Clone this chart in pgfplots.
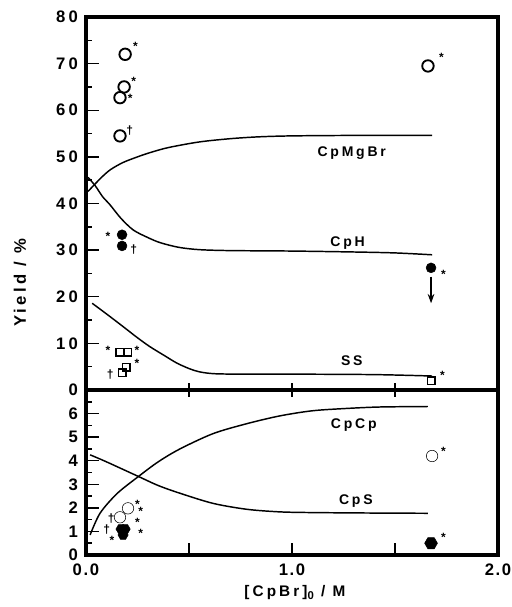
\documentclass[border=0pt]{standalone}
\usepackage{fontspec}
\setmainfont{Liberation Sans}[LetterSpace=20]
\usepackage{pgfplots}
\pgfplotsset{compat=1.18}
\usetikzlibrary{arrows.meta}

\pgfdeclareplotmark{hexagon*}{%
 \pgfpathmoveto{\pgfqpoint{\pgfplotmarksize}{0pt}}%
 \pgfpathlineto{\pgfqpoint{0.5\pgfplotmarksize}{0.866\pgfplotmarksize}}%
 \pgfpathlineto{\pgfqpoint{-0.5\pgfplotmarksize}{0.866\pgfplotmarksize}}%
 \pgfpathlineto{\pgfqpoint{-\pgfplotmarksize}{0pt}}%
 \pgfpathlineto{\pgfqpoint{-0.5\pgfplotmarksize}{-0.866\pgfplotmarksize}}%
 \pgfpathlineto{\pgfqpoint{0.5\pgfplotmarksize}{-0.866\pgfplotmarksize}}%
 \pgfpathclose\pgfusepathqfillstroke}

\pgfplotsset{
 base/.style={
  scale only axis, width=309pt, xmin=0, xmax=2,
  axis line style={line width=2.6pt},
  ytick pos=left, xtick pos=bottom,
  tick label style={font=\fontsize{12.5}{15}\selectfont\bfseries},
  yticklabel style={xshift=-2.5pt},
  xticklabel style={yshift=-3pt, font=\fontsize{12.5}{15}\selectfont\bfseries\addfontfeatures{LetterSpace=10}},
  major tick length=0pt, minor tick length=0pt,
  clip=false,
  /pgf/number format/assume math mode=true,
 },
 curve/.style={black, line width=1.1pt, smooth, no marks},
 oc/.style={only marks, mark=o, mark size=4.3pt, mark options={line width=1.4pt, black}},
 fc/.style={only marks, mark=*, mark size=3.7pt, mark options={black, fill=black}},
 os/.style={only marks, mark=square, mark size=2.8pt, mark options={line width=1.2pt, black}},
 hx/.style={only marks, mark=hexagon*, mark size=4.8pt, mark options={black, fill=black}},
}
\tikzset{ann/.style={font=\fontsize{9}{10}\selectfont\bfseries},
         lab/.style={font=\fontsize{10.5}{12}\selectfont\bfseries},
         tk/.style={black, line width=1.1pt}}

\begin{document}
\begin{tikzpicture}
% ---------- top panel ----------
\begin{axis}[base, at={(0,123.75pt)}, height=279.75pt,
  ymin=0, ymax=80, ytick={0,10,...,80},
  xtick={0.5,1,1.5}, xticklabels={}]
\addplot[curve] coordinates {(0.01,42.6) (0.04,44) (0.08,45.8) (0.12,47.3) (0.18,48.8) (0.25,50) (0.31,50.9) (0.4,52) (0.55,53.2) (0.7,53.9) (0.84,54.3) (1.0,54.5) (1.3,54.6) (1.68,54.6)};
\addplot[curve] coordinates {(0.01,45.6) (0.045,43.8) (0.08,41.5) (0.117,39.7) (0.17,36.8) (0.23,34.3) (0.3,32.7) (0.36,31.6) (0.45,30.6) (0.55,30.1) (0.7,29.9) (1.0,29.8) (1.3,29.6) (1.5,29.4) (1.68,29.0)};
\addplot[curve] coordinates {(0.03,18.6) (0.1,16.3) (0.18,13.6) (0.25,11.2) (0.31,9.3) (0.38,7.4) (0.44,5.8) (0.5,4.6) (0.55,3.9) (0.62,3.5) (0.75,3.4) (1.0,3.4) (1.4,3.3) (1.68,3.0)};
\addplot[oc] coordinates {(0.19,72) (0.185,65) (0.165,62.7) (0.165,54.5) (1.66,69.5)};
\addplot[fc] coordinates {(0.175,33.3) (0.175,30.9) (1.675,26.2)};
\addplot[os] coordinates {(0.165,8.1) (0.202,8.1) (0.175,3.7) (0.195,4.9) (1.675,2.0)};
\addplot[black, line width=1.1pt, -{Stealth[length=7pt,width=5pt]}] coordinates {(1.675,24.3) (1.675,18.6)};
% tick marks
\pgfplotsinvokeforeach{10,20,30,40,50,60,70}{\draw[tk] (axis cs:0,#1) -- ([xshift=9.75pt]axis cs:0,#1);}
\pgfplotsinvokeforeach{5,15,25,35,45,55,65,75}{\draw[tk] (axis cs:0,#1) -- ([xshift=4.5pt]axis cs:0,#1);}
\pgfplotsinvokeforeach{0.5,1,1.5}{\draw[tk] ([yshift=-5pt]axis cs:#1,0) -- ([yshift=5pt]axis cs:#1,0);}
\node[ann] at (axis cs:0.24,73.6) {*};
\node[ann] at (axis cs:0.232,66.2) {*};
\node[ann] at (axis cs:0.215,62.5) {*};
\node[ann] at (axis cs:0.212,55.6) {†};
\node[ann] at (axis cs:1.725,71.3) {*};
\node[ann] at (axis cs:0.107,33.0) {*};
\node[ann] at (axis cs:0.232,30.1) {†};
\node[ann] at (axis cs:1.735,24.9) {*};
\node[ann] at (axis cs:0.107,8.6) {*};
\node[ann] at (axis cs:0.247,8.6) {*};
\node[ann] at (axis cs:0.117,3.3) {†};
\node[ann] at (axis cs:0.247,5.8) {*};
\node[ann] at (axis cs:1.73,3.2) {*};
\node[lab] at (axis cs:1.29,50.8) {CpMgBr};
\node[lab] at (axis cs:1.27,31.6) {CpH};
\node[lab] at (axis cs:1.29,6.2) {SS};
\end{axis}
% ---------- bottom panel ----------
\begin{axis}[base, at={(0,0)}, height=123.75pt,
  ymin=0, ymax=7, ytick={0,...,6},
  xtick={0,0.5,1,1.5,2}, xticklabels={0.0,,1.0,,2.0}]
\addplot[curve] coordinates {(0.02,0.85) (0.068,1.77) (0.15,2.6) (0.25,3.3) (0.35,3.95) (0.456,4.5) (0.617,5.15) (0.78,5.57) (0.94,5.9) (1.1,6.12) (1.27,6.22) (1.43,6.28) (1.66,6.3)};
\addplot[curve] coordinates {(0.02,4.25) (0.1,3.95) (0.25,3.35) (0.35,2.95) (0.456,2.62) (0.617,2.19) (0.78,1.94) (0.94,1.83) (1.1,1.8) (1.4,1.78) (1.66,1.77)};
\addplot[hx, mark size=3.8pt] coordinates {(0.17,1.1) (0.19,1.1) (0.18,0.85)};
\addplot[oc, mark options={fill=white}] coordinates {(0.204,1.98) (0.165,1.6) (1.68,4.2)};
\addplot[hx] coordinates {(1.675,0.5)};
% tick marks
\pgfplotsinvokeforeach{1,2,3,4,5,6}{\draw[tk] (axis cs:0,#1) -- ([xshift=9.75pt]axis cs:0,#1);}
\pgfplotsinvokeforeach{0.5,1.5,2.5,3.5,4.5,5.5,6.5}{\draw[tk] (axis cs:0,#1) -- ([xshift=4.5pt]axis cs:0,#1);}
\pgfplotsinvokeforeach{0.5,1,1.5}{\draw[tk] (axis cs:#1,0) -- ([yshift=9pt]axis cs:#1,0);}
\node[ann] at (axis cs:0.122,1.55) {†};
\node[ann] at (axis cs:0.1,1.08) {†};
\node[ann] at (axis cs:0.25,2.15) {*};
\node[ann] at (axis cs:0.265,1.85) {*};
\node[ann] at (axis cs:0.25,1.4) {*};
\node[ann] at (axis cs:0.265,0.93) {*};
\node[ann] at (axis cs:0.126,0.6) {*};
\node[ann] at (axis cs:1.735,4.4) {*};
\node[ann] at (axis cs:1.735,0.75) {*};
\node[lab] at (axis cs:1.30,5.5) {CpCp};
\node[lab] at (axis cs:1.31,2.3) {CpS};
\end{axis}
\node[rotate=90, font=\fontsize{12.5}{14}\selectfont\bfseries] at (-49.5pt,204pt) {Yield / \%};
\node[font=\fontsize{11.5}{13}\selectfont\bfseries] at (156.75pt,-28pt) {[CpBr]\raisebox{-0.45ex}{\fontsize{8.5}{9}\selectfont 0} / M};
\pgfresetboundingbox
\path[use as bounding box] (-64.5pt,-39pt) rectangle (318.75pt,416.25pt);
\end{tikzpicture}
\end{document}
